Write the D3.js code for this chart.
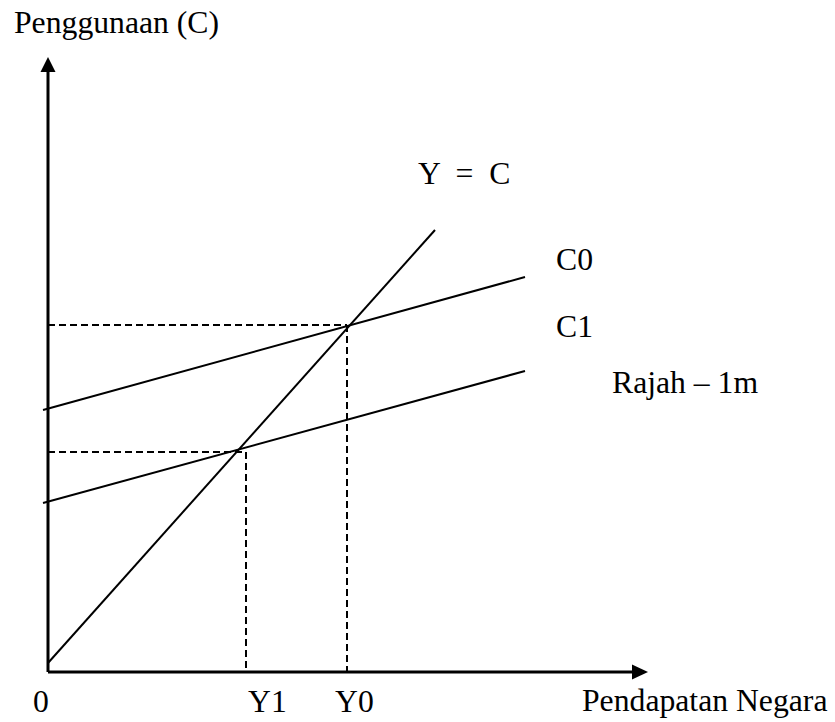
<!DOCTYPE html>
<html>
<head>
<meta charset="utf-8">
<script src="https://cdn.jsdelivr.net/npm/d3@7"></script>
<style>
  body { margin: 0; background: #fff; }
  text { font-family: "Liberation Serif", "Times New Roman", serif; font-size: 31.7px; fill: #000; }
</style>
</head>
<body>
<svg id="chart" width="835" height="722"></svg>
<script>
// values (arbitrary units, origin at the axes corner)
const axisMax = [150, 153.75]               // arrow tips of x and y axes
const lineNames = ["Y = C", "C0", "C1"]
const lineStart = [[0, 2.25], [-1.25, 65.5], [-1.25, 42.25]]
const lineEnd = [[96.75, 110.5], [119.25, 98.75], [119.25, 75.25]]
const eqNames = ["Y1", "Y0"]
const eqIncome = [49.5, 74.75]
const eqSpend = [55, 86.75]
const xTickLabels = ["0", "Y1", "Y0"]
const xTickValues = [0, 49.5, 74.75]

const svg = d3.select("#chart")
const x = d3.scaleLinear().domain([0, 150]).range([48, 648])
const y = d3.scaleLinear().domain([0, 150]).range([672, 72])

// guide lines from each equilibrium to the axes
const eq = eqNames.map((n, i) => ({ name: n, x: eqIncome[i], y: eqSpend[i] }))
svg.selectAll("line.hguide")
  .data(eq)
  .enter().append("line").classed("hguide", true)
    .attr("x1", x(0)).attr("x2", d => x(d.x))
    .attr("y1", d => y(d.y)).attr("y2", d => y(d.y))
svg.selectAll("line.vguide")
  .data(eq)
  .enter().append("line").classed("vguide", true)
    .attr("x1", d => x(d.x)).attr("x2", d => x(d.x))
    .attr("y1", d => y(d.y)).attr("y2", y(0))
svg.selectAll("line.hguide, line.vguide")
  .attr("stroke", "#000").attr("stroke-width", 2).attr("stroke-dasharray", "7,4")

// the three lines
const lines = lineNames.map((n, i) => ({ name: n, a: lineStart[i], b: lineEnd[i] }))
svg.selectAll("line.fn")
  .data(lines)
  .enter().append("line").classed("fn", true)
    .attr("x1", d => x(d.a[0])).attr("y1", d => y(d.a[1]))
    .attr("x2", d => x(d.b[0])).attr("y2", d => y(d.b[1]))
    .attr("stroke", "#000").attr("stroke-width", 2)

// axes with arrow heads
const axes = svg.append("g")
axes.append("line")
  .attr("x1", x(0)).attr("y1", y(0)).attr("x2", x(0)).attr("y2", y(axisMax[1]) + 14)
axes.append("line")
  .attr("x1", x(0)).attr("y1", y(0)).attr("x2", x(axisMax[0]) - 14).attr("y2", y(0))
axes.selectAll("line").attr("stroke", "#000").attr("stroke-width", 3)
const tipY = [x(0), y(axisMax[1])], tipX = [x(axisMax[0]), y(0)]
axes.append("path")
  .attr("d", `M${tipY[0]},${tipY[1]}L${tipY[0] - 7.5},${tipY[1] + 15}L${tipY[0] + 7.5},${tipY[1] + 15}Z`)
axes.append("path")
  .attr("d", `M${tipX[0]},${tipX[1]}L${tipX[0] - 16},${tipX[1] - 7.5}L${tipX[0] - 16},${tipX[1] + 7.5}Z`)
axes.selectAll("path").attr("fill", "#000")

// x labels under the axis
const tickDx = [-15, 2, -12]
svg.selectAll("text.tick")
  .data(xTickLabels)
  .enter().append("text").classed("tick", true)
    .attr("x", (d, i) => x(xTickValues[i]) + tickDx[i])
    .attr("y", 712)
    .text(d => d)

// line labels
const labelPos = [[418, 184], [556, 270], [556, 337]]
svg.selectAll("text.fnlabel")
  .data(lines)
  .enter().append("text").classed("fnlabel", true)
    .attr("x", (d, i) => labelPos[i][0])
    .attr("y", (d, i) => labelPos[i][1])
    .style("white-space", "pre")
    .text(d => d.name === "Y = C" ? "Y  =  C" : d.name)

svg.append("text").attr("x", 14).attr("y", 33).text("Penggunaan (C)")
svg.append("text").attr("x", 582).attr("y", 711).text("Pendapatan Negara")
svg.append("text").attr("x", 612).attr("y", 393).text("Rajah – 1m")
</script>
</body>
</html>
